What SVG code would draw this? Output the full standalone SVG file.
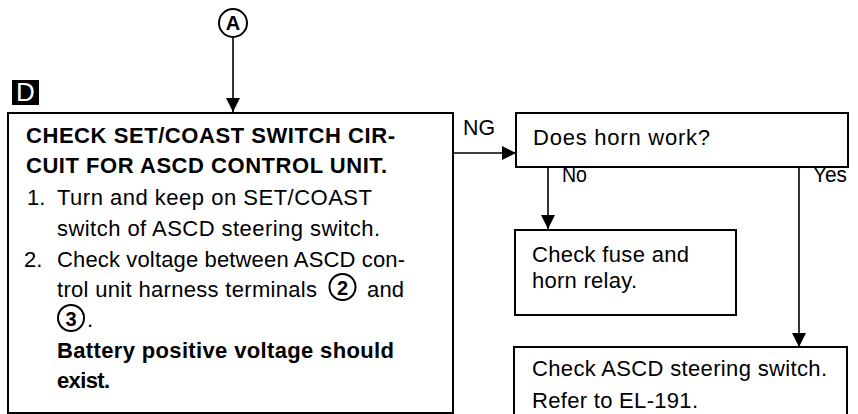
<svg xmlns="http://www.w3.org/2000/svg" width="858" height="414" viewBox="0 0 858 414">
<style>
.box{fill:#fff;stroke:#000;stroke-width:2}
.t{font-family:"Liberation Sans",Arial,sans-serif;font-size:22px;fill:#000}
.b{font-weight:bold}
.ln{stroke:#000;stroke-width:1.6;fill:none}
.circ{fill:#fff;stroke:#000;stroke-width:2}
</style>
<defs>
<marker id="ah" markerUnits="userSpaceOnUse" markerWidth="14" markerHeight="16" refX="14" refY="7" orient="auto">
<path d="M0,0 L14,7 L0,14 Z" fill="#000"/>
</marker>
</defs>
<rect x="12" y="80" width="27" height="25" fill="#000"/>
<text x="25.5" y="101" text-anchor="middle" class="t" style="font-size:26px;fill:#fff">D</text>
<g id="connectors">
<line class="ln" x1="233" y1="38" x2="233" y2="112" marker-end="url(#ah)"/>
<line class="ln" x1="454" y1="153" x2="516" y2="153" marker-end="url(#ah)"/>
<line class="ln" x1="548" y1="167" x2="548" y2="229" marker-end="url(#ah)"/>
<line class="ln" x1="799" y1="167" x2="799" y2="347" marker-end="url(#ah)"/>
<text class="t" x="463" y="135" textLength="32" lengthAdjust="spacingAndGlyphs">NG</text>
<text class="t" x="562" y="182" textLength="25" lengthAdjust="spacingAndGlyphs">No</text>
<text class="t" x="813" y="182" textLength="34" lengthAdjust="spacingAndGlyphs">Yes</text>
</g>
<g id="nodeA">
<circle class="circ" cx="233" cy="23" r="14"/>
<text class="t b" x="233" y="30" text-anchor="middle" style="font-size:20px">A</text>
</g>
<g id="nodeD">
<rect class="box" x="8" y="113" width="445" height="300"/>
<text class="t b" x="26" y="143" textLength="369" lengthAdjust="spacing">CHECK SET/COAST SWITCH CIR-</text>
<text class="t b" x="26" y="173" textLength="361" lengthAdjust="spacing">CUIT FOR ASCD CONTROL UNIT.</text>
<text class="t" x="27" y="205">1.</text>
<text class="t" x="57" y="205" textLength="315" lengthAdjust="spacing">Turn and keep on SET/COAST</text>
<text class="t" x="57" y="236" textLength="323" lengthAdjust="spacing">switch of ASCD steering switch.</text>
<text class="t" x="24" y="267">2.</text>
<text class="t" x="57" y="267" textLength="348" lengthAdjust="spacing">Check voltage between ASCD con-</text>
<text class="t" x="57" y="297" textLength="260" lengthAdjust="spacing">trol unit harness terminals</text>
<circle class="circ" cx="342.5" cy="287" r="13"/>
<text class="t b" x="342.5" y="294.5" text-anchor="middle" style="font-size:20px">2</text>
<text class="t" x="367" y="297" textLength="37" lengthAdjust="spacing">and</text>
<circle class="circ" cx="71" cy="318" r="13"/>
<text class="t b" x="71" y="325.5" text-anchor="middle" style="font-size:20px">3</text>
<text class="t" x="87" y="327">.</text>
<text class="t b" x="57" y="358" textLength="337" lengthAdjust="spacing">Battery positive voltage should</text>
<text class="t b" x="57" y="388" textLength="53" lengthAdjust="spacing">exist.</text>
</g>
<g id="nodeHorn">
<rect class="box" x="516" y="113" width="332" height="54"/>
<text class="t" x="533" y="145" textLength="177" lengthAdjust="spacing">Does horn work?</text>
</g>
<g id="nodeFuse">
<rect class="box" x="515" y="230" width="221" height="85"/>
<text class="t" x="532" y="262" textLength="157" lengthAdjust="spacing">Check fuse and</text>
<text class="t" x="532" y="288" textLength="105" lengthAdjust="spacing">horn relay.</text>
</g>
<g id="nodeSwitch">
<path class="box" d="M514,420 L514,347 L847,347 L847,420"/>
<text class="t" x="532" y="376" textLength="295" lengthAdjust="spacing">Check ASCD steering switch.</text>
<text class="t" x="532" y="408" textLength="166" lengthAdjust="spacing">Refer to EL-191.</text>
</g>
</svg>
